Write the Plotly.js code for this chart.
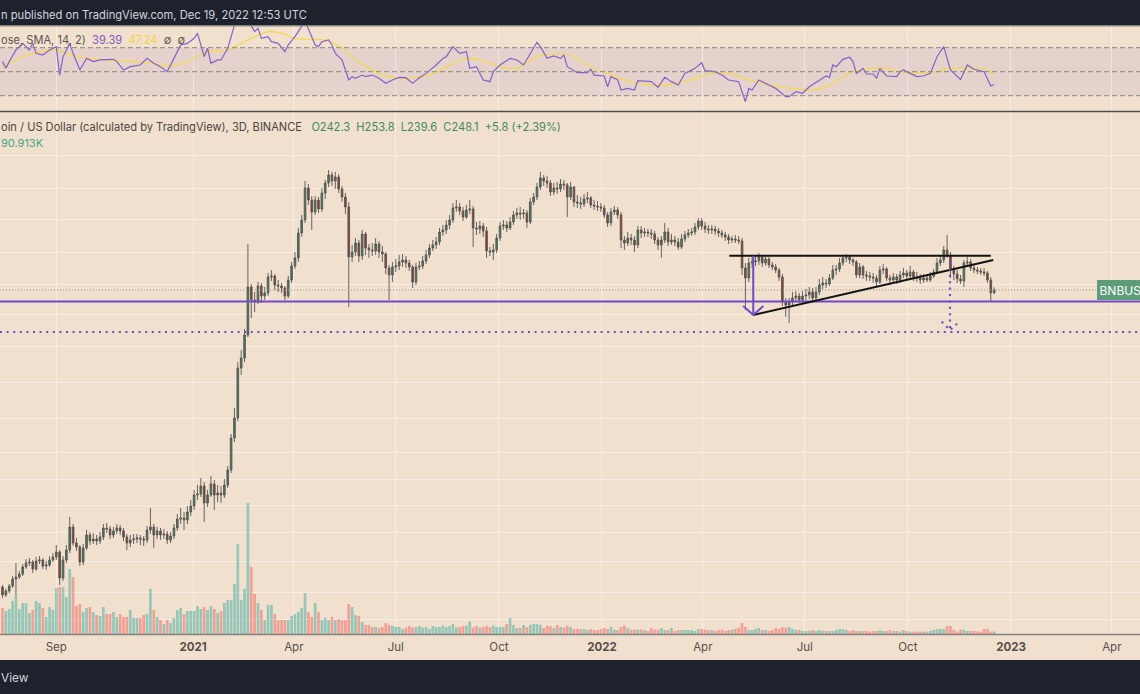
<!DOCTYPE html>
<html><head><meta charset="utf-8">
<script src="https://cdn.plot.ly/plotly-3.0.1.min.js"></script>
<style>html,body{margin:0;padding:0;background:#f2e0cf;overflow:hidden}#chart{width:1140px;height:694px}</style>
</head><body><div id="chart"></div>
<script>
// ---------- data (BNB/USD, 3D candles, Binance) ----------
const firstCandle = '2020-07-15';
const candleStepDays = 3;

const opens = [
19.34,18.06,18.69,19.51,20.71,21.07,21.62,22.97,23.77,23.97,
22.57,24.18,24.39,23.16,23.36,24.39,25.02,26.12,20.89,24.39,
26.57,32.38,28.22,27.27,23.97,27.04,30.23,28.71,29.21,28.71,
29.72,32.10,31.83,30.23,31.29,32.10,31.29,29.72,28.22,28.96,
29.21,29.46,29.21,28.96,31.56,32.38,30.23,31.29,30.23,30.49,
28.96,29.97,32.10,34.68,34.98,34.39,36.83,38.78,42.62,42.99,
46.05,39.79,42.62,46.85,42.62,43.36,42.62,46.45,52.84,69.55,
82.59,126.91,138.29,168.50,254.6,227.6,223.7,256.8,235.6,241.8,
277.4,279.8,259.0,256.8,252.4,235.6,270.4,305.0,326.7,404.9,
452.8,596.1,537.7,485.0,537.7,497.7,571.0,622.3,666.5,633.0,
655.2,591.0,551.7,506.3,329.5,343.9,371.6,332.3,401.5,356.0,
349.9,346.9,368.4,343.9,338.1,299.8,282.2,302.4,305.0,315.6,
321.1,312.9,302.4,265.8,302.4,305.0,318.4,335.2,356.0,365.3,
374.8,408.4,415.5,433.7,452.8,502.0,506.3,489.2,464.6,493.4,
497.7,422.7,419.1,430.0,411.9,346.9,343.9,349.9,387.9,430.0,
433.7,422.7,445.1,472.7,480.9,476.7,480.9,445.1,528.5,551.7,
601.2,649.6,633.0,622.3,575.9,596.1,591.0,616.9,611.6,551.7,
601.2,528.5,524.0,519.5,542.3,547.0,515.1,510.7,506.3,502.0,
472.7,441.3,485.0,493.4,472.7,381.3,371.6,387.9,381.3,365.3,
415.5,404.9,408.4,404.9,401.5,381.3,365.3,381.3,408.4,374.8,
381.3,374.8,359.0,384.6,398.0,404.9,408.4,426.4,448.9,430.0,
419.1,415.5,419.1,411.9,404.9,398.0,391.2,381.3,384.6,381.3,
378.0,299.8,275.0,312.9,315.6,318.4,329.5,312.9,323.9,307.6,
302.4,294.6,277.4,223.7,218.0,223.7,231.6,235.6,227.6,235.6,
237.7,243.9,231.6,243.9,259.0,263.5,261.3,275.0,294.6,297.2,
312.9,326.7,329.5,321.1,315.6,282.2,302.4,282.2,279.8,277.4,
275.0,265.8,294.6,297.2,275.0,270.4,277.4,270.4,282.2,287.1,
279.8,289.6,277.4,275.0,270.4,275.0,270.4,279.8,289.6,312.9,
321.1,349.9,335.2,294.6,284.6,272.7,268.1,312.9,315.6,299.8,
294.6,292.1,289.6,287.1,270.4,242.3];

const highs = [
19.68,19.01,19.85,21.25,23.77,22.19,23.56,24.59,24.80,24.39,
25.02,25.24,24.80,24.18,25.24,25.89,27.74,26.57,25.24,27.74,
35.28,33.22,29.46,27.74,27.98,31.56,31.02,30.76,30.23,31.02,
33.22,33.51,32.66,32.38,33.22,32.94,32.10,30.49,30.23,30.49,
30.49,30.23,29.97,32.66,38.12,33.22,32.38,32.10,31.83,31.29,
31.02,33.22,36.21,38.12,36.83,38.78,40.83,44.49,46.45,49.33,
47.66,44.49,50.18,48.49,46.45,46.05,48.91,54.68,71.98,89.99,
133.62,148.13,177.41,368.4,261.3,243.9,265.8,263.5,254.6,287.1,
294.6,284.6,270.4,263.5,256.8,279.8,315.6,343.9,422.7,472.7,
633.0,616.9,556.4,556.4,551.7,596.1,638.5,695.8,684.0,684.0,
672.3,606.4,571.0,528.5,365.3,387.9,381.3,415.5,408.4,368.4,
371.6,387.9,378.0,362.2,343.9,307.6,315.6,323.9,335.2,338.1,
332.3,321.1,307.6,312.9,318.4,332.3,349.9,368.4,381.3,391.2,
422.7,433.7,452.8,472.7,524.0,537.7,524.0,506.3,515.1,537.7,
510.7,445.1,448.9,441.3,426.4,359.0,368.4,401.5,445.1,452.8,
448.9,464.6,489.2,502.0,506.3,497.7,493.4,547.0,571.0,622.3,
684.0,666.5,660.8,638.5,622.3,627.6,644.0,638.5,622.3,627.6,
606.4,561.3,551.7,566.2,575.9,556.4,537.7,533.1,524.0,515.1,
485.0,502.0,510.7,506.3,485.0,394.6,408.4,401.5,394.6,430.0,
430.0,422.7,419.1,419.1,411.9,391.2,394.6,441.3,422.7,401.5,
394.6,387.9,401.5,411.9,419.1,422.7,441.3,460.6,460.6,445.1,
433.7,433.7,430.0,422.7,415.5,408.4,401.5,394.6,398.0,394.6,
387.9,312.9,326.7,332.3,335.2,341.0,335.2,332.3,329.5,315.6,
310.2,299.8,284.6,231.6,231.6,243.9,246.0,241.8,246.0,250.2,
254.6,252.4,254.6,272.7,277.4,272.7,284.6,307.6,307.6,326.7,
335.2,338.1,335.2,326.7,321.1,312.9,307.6,292.1,289.6,287.1,
282.2,305.0,310.2,302.4,282.2,287.1,284.6,292.1,299.8,294.6,
305.0,294.6,289.6,284.6,284.6,284.6,289.6,297.2,326.7,335.2,
362.2,398.0,343.9,305.0,294.6,282.2,321.1,329.5,323.9,307.6,
302.4,299.8,299.8,292.1,277.4,253.8];

const lows = [
17.60,17.75,18.37,19.20,18.06,20.71,21.25,22.57,23.16,21.81,
22.19,23.56,22.57,22.38,22.97,23.97,24.39,19.68,20.36,23.77,
25.89,27.50,26.34,23.16,23.36,26.57,27.74,27.98,27.74,27.98,
28.96,30.76,29.21,29.46,30.49,30.23,28.71,26.57,27.27,27.98,
28.22,27.74,27.50,28.22,30.49,27.04,29.21,28.96,29.21,27.98,
28.22,29.21,31.29,33.22,31.56,33.22,35.59,37.47,40.83,41.89,
33.80,38.45,41.89,37.47,40.13,39.79,41.53,45.27,51.49,67.20,
80.49,119.49,133.62,165.6,195.0,205.3,219.9,221.8,227.6,235.6,
268.1,248.1,243.9,241.8,227.6,231.6,263.5,297.2,315.6,391.2,
441.3,515.1,415.5,472.7,480.9,485.0,542.3,601.2,606.4,591.0,
571.0,528.5,476.7,214.3,315.6,332.3,315.6,321.1,335.2,326.7,
332.3,335.2,326.7,315.6,284.6,227.6,265.8,289.6,294.6,302.4,
299.8,292.1,252.4,259.0,294.6,297.2,310.2,326.7,346.9,352.9,
365.3,394.6,401.5,419.1,441.3,485.0,472.7,448.9,456.7,476.7,
359.0,398.0,401.5,391.2,326.7,332.3,321.1,341.0,378.0,415.5,
408.4,415.5,433.7,456.7,452.8,456.7,422.7,437.5,515.1,537.7,
585.9,606.4,596.1,556.4,561.3,566.2,575.9,585.9,464.6,537.7,
506.3,502.0,497.7,506.3,524.0,502.0,493.4,489.2,485.0,460.6,
426.4,430.0,472.7,456.7,356.0,349.9,362.2,365.3,343.9,356.0,
387.9,391.2,391.2,384.6,368.4,349.9,326.7,371.6,362.2,365.3,
362.2,349.9,352.9,374.8,387.9,394.6,398.0,415.5,415.5,404.9,
401.5,401.5,398.0,391.2,387.9,378.0,368.4,371.6,371.6,368.4,
282.2,208.9,265.8,299.8,305.0,307.6,302.4,305.0,299.8,294.6,
287.1,268.1,216.2,196.7,186.8,216.2,223.7,221.8,219.9,227.6,
229.6,221.8,227.6,237.7,250.2,252.4,256.8,270.4,282.2,289.6,
305.0,315.6,310.2,305.0,275.0,275.0,272.7,268.1,268.1,263.5,
256.8,261.3,284.6,268.1,261.3,265.8,261.3,263.5,275.0,272.7,
275.0,268.1,265.8,261.3,263.5,265.8,265.8,275.0,284.6,305.0,
312.9,326.7,275.0,270.4,263.5,261.3,254.6,305.0,292.1,287.1,
284.6,282.2,279.8,263.5,225.0,239.6];

const closes = [
18.06,18.69,19.51,20.71,21.07,21.62,22.97,23.77,23.97,22.57,
24.18,24.39,23.16,23.36,24.39,25.02,26.12,20.89,24.39,26.57,
32.38,28.22,27.27,23.97,27.04,30.23,28.71,29.21,28.71,29.72,
32.10,31.83,30.23,31.29,32.10,31.29,29.72,28.22,28.96,29.21,
29.46,29.21,28.96,31.56,32.38,30.23,31.29,30.23,30.49,28.96,
29.97,32.10,34.68,34.98,34.39,36.83,38.78,42.62,42.99,46.05,
39.79,42.62,46.85,42.62,43.36,42.62,46.45,52.84,69.55,82.59,
126.91,138.29,168.50,254.6,227.6,223.7,256.8,235.6,241.8,277.4,
279.8,259.0,256.8,252.4,235.6,270.4,305.0,326.7,404.9,452.8,
596.1,537.7,485.0,537.7,497.7,571.0,622.3,666.5,633.0,655.2,
591.0,551.7,506.3,329.5,343.9,371.6,332.3,401.5,356.0,349.9,
346.9,368.4,343.9,338.1,299.8,282.2,302.4,305.0,315.6,321.1,
312.9,302.4,265.8,302.4,305.0,318.4,335.2,356.0,365.3,374.8,
408.4,415.5,433.7,452.8,502.0,506.3,489.2,464.6,493.4,497.7,
422.7,419.1,430.0,411.9,346.9,343.9,349.9,387.9,430.0,433.7,
422.7,445.1,472.7,480.9,476.7,480.9,445.1,528.5,551.7,601.2,
649.6,633.0,622.3,575.9,596.1,591.0,616.9,611.6,551.7,601.2,
528.5,524.0,519.5,542.3,547.0,515.1,510.7,506.3,502.0,472.7,
441.3,485.0,493.4,472.7,381.3,371.6,387.9,381.3,365.3,415.5,
404.9,408.4,404.9,401.5,381.3,365.3,381.3,408.4,374.8,381.3,
374.8,359.0,384.6,398.0,404.9,408.4,426.4,448.9,430.0,419.1,
415.5,419.1,411.9,404.9,398.0,391.2,381.3,384.6,381.3,378.0,
299.8,275.0,312.9,315.6,318.4,329.5,312.9,323.9,307.6,302.4,
294.6,277.4,223.7,218.0,223.7,231.6,235.6,227.6,235.6,237.7,
243.9,231.6,243.9,259.0,263.5,261.3,275.0,294.6,297.2,312.9,
326.7,329.5,321.1,315.6,282.2,302.4,282.2,279.8,277.4,275.0,
265.8,294.6,297.2,275.0,270.4,277.4,270.4,282.2,287.1,279.8,
289.6,277.4,275.0,270.4,275.0,270.4,279.8,289.6,312.9,321.1,
349.9,335.2,294.6,284.6,272.7,268.1,312.9,315.6,299.8,294.6,
292.1,289.6,287.1,270.4,242.3,248.1];

// volume in thousands of BNB
const volumesK = [
988,874,950,1254,1482,950,1178,1178,798,912,1254,1178,988,646,1026,912,1748,1786,1786,1406,
2470,2166,1064,1140,836,988,1026,836,722,684,1026,760,760,836,646,760,646,646,912,608,
608,608,722,760,1710,912,646,532,380,532,418,608,912,988,760,874,874,874,1064,950,
1026,912,1064,950,798,874,1178,1292,1292,1900,3420,1292,1710,4978,2546,1520,1178,
912,532,1102,1102,760,532,532,532,532,684,760,836,988,1558,836,646,1178,836,532,608,
532,646,532,570,532,532,1140,1026,722,684,456,342,342,266,266,228,266,418,342,304,266,266,
190,243,304,243,266,304,243,266,190,304,266,
266,319,266,304,380,243,266,304,319,475,243,304,243,266,304,266,319,266,266,266,380,608,
342,228,228,342,266,342,380,380,342,228,319,304,228,342,266,243,319,266,190,190,190,190,
152,190,152,152,190,228,190,266,167,152,266,319,228,167,167,167,167,152,114,228,167,167,
228,152,152,228,114,152,152,152,152,152,114,190,190,167,152,152,114,152,167,114,152,167,
190,228,418,266,152,152,190,228,152,152,114,152,228,190,266,243,266,190,152,152,114,114,
114,152,114,152,114,114,114,114,152,190,190,152,114,152,114,114,114,114,91,114,114,152,
114,114,152,114,114,91,152,114,91,91,91,91,91,91,114,152,190,190,190,304,304,167,
91,167,167,114,114,114,91,91,190,190,91,90.913];

// RSI(14) and its SMA(14), sampled at candle indices
const rsiIdx = [0,1,2,4,6,8,9,10,12,14,16,17,18,20,21,23,25,27,29,31,33,34,36,38,41,43,45,47,49,51,
53,55,57,58,60,61,62,64,65,67,68,69,71,73,75,76,77,79,80,82,84,85,87,89,90,92,93,94,95,97,
98,99,101,103,104,105,107,108,110,112,114,116,118,120,122,124,126,129,131,132,134,136,138,139,141,143,145,146,148,151,
153,155,157,159,160,162,164,166,167,168,171,174,175,176,179,180,181,183,184,186,188,189,193,195,197,199,201,203,206,208,
209,212,214,216,219,220,221,222,223,225,227,229,230,233,234,236,238,240,242,245,246,247,248,250,252,253,254,256,257,259,
260,261,263,266,267,268,270,272,274,276,278,280,282,285,287,289,292,294,295];
const rsiVal = [58.4,52.8,58.4,68.1,73.6,68.1,73.6,65.3,63.9,68.1,70.9,47.2,62.5,73.6,65.3,51.4,61.1,58.4,59.8,59.8,
60.3,58.4,51.4,54.2,55.6,61.1,57.0,54.2,50.0,61.1,72.3,73.6,77.8,82.0,62.5,69.5,57.0,59.8,59.8,69.5,
79.2,88.9,95.0,93.0,83.4,86.1,77.8,79.2,75.0,73.6,66.7,72.3,79.2,87.5,92.0,79.2,72.3,70.9,75.0,76.4,
72.3,65.3,59.8,43.1,45.9,44.5,47.2,45.9,47.2,44.5,40.3,43.1,45.2,45.0,40.3,45.0,48.6,55.6,61.1,62.5,
70.9,65.3,66.7,52.8,54.2,43.1,41.7,50.0,55.6,61.1,59.8,55.6,65.3,74.5,70.9,61.1,63.1,61.1,63.9,54.2,
49.2,49.2,52.0,47.2,46.4,37.5,45.9,43.1,34.75,36.1,34.75,42.5,41.7,37.0,45.3,41.7,38.9,48.6,52.8,57.5,
50.9,50.0,47.2,43.1,41.7,33.4,25.0,36.1,34.75,43.1,40.3,37.5,36.1,29.2,29.2,33.4,32.0,37.5,40.9,46.4,
45.3,55.6,54.2,60.3,62.0,58.4,48.6,52.8,48.1,48.1,44.5,52.8,46.4,45.9,50.0,51.4,48.6,45.9,46.4,48.6,
62.5,70.9,51.4,43.6,55.6,52.0,50.0,38.1,39.39];
const smaIdx = [0,3,9,16,19,25,31,39,45,49,55,61,67,71,75,79,83,87,91,97,101,106,112,118,127,132,138,142,148,153,
159,163,169,174,181,188,197,205,211,216,222,229,235,242,247,253,259,263,267,273,278,281,287,292,295];
const smaVal = [52.8,58.4,65.3,68.1,65.3,61.1,59.8,58.4,57.0,54.75,58.4,66.7,68.1,73.6,79.2,83.4,82.0,77.8,77.0,75.9,
69.5,58.4,48.6,44.5,47.2,54.2,61.1,59.8,54.2,52.8,62.5,64.5,63.9,55.6,47.2,40.9,38.9,43.1,48.6,48.6,
43.1,38.9,36.1,34.75,40.3,50.0,52.8,52.8,50.0,48.6,50.0,52.8,52.8,52.8,47.24];
const rsiLevels = [70, 50, 30];

// axis ticks and price grid levels
const tickDates = ['2020-09-01','2021-01-01','2021-04-01','2021-07-01','2021-10-01','2022-01-01','2022-04-01','2022-07-01','2022-10-01','2023-01-01','2023-04-01'];
const tickLabels = ['Sep','<b>2021</b>','Apr','Jul','Oct','<b>2022</b>','Apr','Jul','Oct','<b>2023</b>','Apr'];
const gridPrices = [784.6,594.5,452.8,341.9,259.0,201.4,152.4,112.2,81.9,61.5,48.9,39.1,30.8,24.0,18.4,14.6];

// drawings on the chart
const supportLevel = 224.7;
const lowerTarget = 172.9;
const resistDates = ['2022-04-24 14:00','2022-12-14 00:00'];
const resistPrices = [333.0, 333.0];
const trendDates = ['2022-05-16 00:00','2022-12-16 05:00'];
const trendPrices = [200.1, 321.1];
const arrowDates = ['2022-05-16 00:00','2022-05-16 00:00',null,'2022-05-07 00:00','2022-05-16 00:00','2022-05-25 00:00'];
const arrowPrices = [333.0, 200.1, null, 216.2, 200.1, 216.2];
const moveDates = ['2022-11-07 14:00','2022-11-07 14:00',null,'2022-10-31 05:00','2022-11-07 14:00','2022-11-15 22:00'];
const movePrices = [315.6, 175.9, null, 188.9, 175.9, 188.9];

const xRange = ['2020-07-12 18:14','2023-04-26 03:36'];

// ---------- build ----------
const t0 = new Date(firstCandle + 'T00:00:00Z').getTime();
const dates = closes.map((_, i) => new Date(t0 + i * candleStepDays * 86400000).toISOString().slice(0, 10));
const lastClose = closes[closes.length - 1];

const BG = '#f2e0cf';
const GRID = 'rgba(255,255,255,0.42)';
const PURPLE = '#7048c8';
const FONT = 'Inter, Roboto, sans-serif';
const H = 694;
const py = px => 1 - px / H;   // pixel row -> paper fraction (layout helper)

const volColors = closes.map((c, i) => c >= opens[i] ? 'rgba(38,166,154,0.45)' : 'rgba(239,83,80,0.45)');

const traces = [
  {type:'bar', x:dates, y:volumesK, xaxis:'x', yaxis:'y', marker:{color:volColors, line:{width:0}}, hoverinfo:'skip'},
  {type:'scatter', mode:'lines', x:xRange, y:[lastClose,lastClose], xaxis:'x', yaxis:'y2', line:{color:'#9a9590', width:1, dash:'1px,2px'}, hoverinfo:'skip'},
  {type:'scatter', mode:'lines', x:xRange, y:[supportLevel,supportLevel], xaxis:'x', yaxis:'y2', line:{color:PURPLE, width:2}, hoverinfo:'skip'},
  {type:'scatter', mode:'lines', x:xRange, y:[lowerTarget,lowerTarget], xaxis:'x', yaxis:'y2', line:{color:PURPLE, width:2.2, dash:'2px,4.6px'}, hoverinfo:'skip'},
  {type:'candlestick', x:dates, open:opens, high:highs, low:lows, close:closes, xaxis:'x', yaxis:'y2',
   increasing:{line:{color:'#545654', width:0.9}, fillcolor:'#437f58'},
   decreasing:{line:{color:'#545654', width:0.9}, fillcolor:'#9e3729'},
   whiskerwidth:0, hoverinfo:'skip'},
  {type:'scatter', mode:'lines', x:resistDates, y:resistPrices, xaxis:'x', yaxis:'y2', line:{color:'#131313', width:2}, hoverinfo:'skip'},
  {type:'scatter', mode:'lines', x:trendDates, y:trendPrices, xaxis:'x', yaxis:'y2', line:{color:'#131313', width:2}, hoverinfo:'skip'},
  {type:'scatter', mode:'lines', x:arrowDates, y:arrowPrices, xaxis:'x', yaxis:'y2', line:{color:PURPLE, width:2}, connectgaps:false, hoverinfo:'skip'},
  {type:'scatter', mode:'lines', x:moveDates, y:movePrices, xaxis:'x', yaxis:'y2', line:{color:PURPLE, width:2.2, dash:'2px,4.4px'}, connectgaps:false, hoverinfo:'skip'},
  {type:'scatter', mode:'lines', x:smaIdx.map(i => dates[i]), y:smaVal, xaxis:'x', yaxis:'y3', line:{color:'#f3d94f', width:1.3, shape:'spline', smoothing:0.8}, hoverinfo:'skip'},
  {type:'scatter', mode:'lines', x:rsiIdx.map(i => dates[i]), y:rsiVal, xaxis:'x', yaxis:'y3', line:{color:'#8460cc', width:1.2}, hoverinfo:'skip'}
];

const shapes = [
  {type:'rect', xref:'paper', yref:'paper', x0:0, x1:1, y0:py(25.5), y1:1, fillcolor:'#1e222d', line:{width:0}, layer:'above'},
  {type:'rect', xref:'paper', yref:'paper', x0:0, x1:1, y0:0, y1:py(660), fillcolor:'#1e222d', line:{width:0}, layer:'above'},
  {type:'rect', xref:'paper', yref:'y3', x0:0, x1:1, y0:rsiLevels[2], y1:rsiLevels[0], fillcolor:'rgba(126,87,194,0.10)', line:{width:0}, layer:'below'},
  {type:'line', xref:'paper', yref:'paper', x0:0, x1:1, y0:py(111.5), y1:py(111.5), line:{color:'#4e4e4e', width:1.5}},
  {type:'line', xref:'paper', yref:'paper', x0:0, x1:1, y0:py(634.5), y1:py(634.5), line:{color:'#858180', width:1.5}},
  {type:'line', xref:'paper', yref:'paper', x0:0, x1:1, y0:py(26), y1:py(26), line:{color:'#8a8580', width:1}}
].concat(rsiLevels.map(v => ({type:'line', xref:'paper', yref:'y3', x0:0, x1:1, y0:v, y1:v, line:{color:'#8c8782', width:1, dash:'5px,3px'}})));

const NB = '\u00a0';
const annotations = [
  {xref:'paper', yref:'paper', x:-0.001, y:py(15), xanchor:'left', yanchor:'middle', showarrow:false,
   text:'n published on TradingView.com, Dec 19, 2022 12:53 UTC', font:{family:FONT, size:11.2, color:'#d1d4dc'}},
  {xref:'paper', yref:'paper', x:-0.001, y:py(40.5), xanchor:'left', yanchor:'middle', showarrow:false,
   text:'ose, SMA, 14, 2)' + NB + NB + '<span style="color:#7e57c2">39.39</span>' + NB + NB + '<span style="color:#f0d24a">47.24</span>' + NB + NB + '∅' + NB + NB + '∅',
   font:{family:FONT, size:11.1, color:'#5a5650'}},
  {xref:'paper', yref:'paper', x:-0.001, y:py(127), xanchor:'left', yanchor:'middle', showarrow:false,
   text:'oin / US Dollar (calculated by TradingView), 3D, BINANCE' + NB + NB + NB +
        '<span style="color:#3c8a5b">O242.3' + NB + NB + 'H253.8' + NB + NB + 'L239.6' + NB + NB + 'C248.1' + NB + NB + '+5.8 (+2.39%)</span>',
   font:{family:FONT, size:11.1, color:'#4a4640'}},
  {xref:'paper', yref:'paper', x:-0.001, y:py(143), xanchor:'left', yanchor:'middle', showarrow:false,
   text:'90.913K', font:{family:FONT, size:11.0, color:'#47a883'}},
  {xref:'paper', yref:'paper', x:-0.001, y:py(678), xanchor:'left', yanchor:'middle', showarrow:false,
   text:'View', font:{family:FONT, size:11.8, color:'#d1d4dc'}},
  {xref:'paper', yref:'y2', x:1097/1140, y:Math.log10(lastClose), xanchor:'left', yanchor:'middle', showarrow:false,
   text:'BNBUSD', bgcolor:'#5c9c79', bordercolor:'#5c9c79', borderpad:1.5, font:{family:FONT, size:12, color:'#ffffff'}}
];

const layout = {
  width:1140, height:694,
  margin:{l:0, r:0, t:0, b:0, pad:0},
  paper_bgcolor:BG, plot_bgcolor:BG,
  showlegend:false, hovermode:false, dragmode:false,
  xaxis:{type:'date', range:xRange, domain:[0,1], anchor:'y',
         tickvals:tickDates, ticktext:tickLabels, ticks:'', showline:false, zeroline:false,
         showgrid:true, gridcolor:GRID, gridwidth:1, ticklabelstandoff:4,
         tickfont:{family:FONT, size:11.5, color:'#55514c'},
         rangeslider:{visible:false}, fixedrange:true},
  yaxis:{domain:[py(634), py(112)], range:[0, 522*38], showgrid:false, zeroline:false, showticklabels:false, ticks:'', fixedrange:true},
  yaxis2:{type:'log', overlaying:'y', range:[1.1110, 3.0588], tickvals:gridPrices, showticklabels:false, ticks:'',
          showgrid:true, gridcolor:GRID, gridwidth:1, zeroline:false, fixedrange:true},
  yaxis3:{domain:[py(111), py(25.5)], range:[17.25, 88.5], anchor:'x', showgrid:false, zeroline:false, showticklabels:false, ticks:'', fixedrange:true},
  shapes:shapes,
  annotations:annotations
};

Plotly.newPlot('chart', traces, layout, {staticPlot:true, displayModeBar:false});
</script>
</body></html>
